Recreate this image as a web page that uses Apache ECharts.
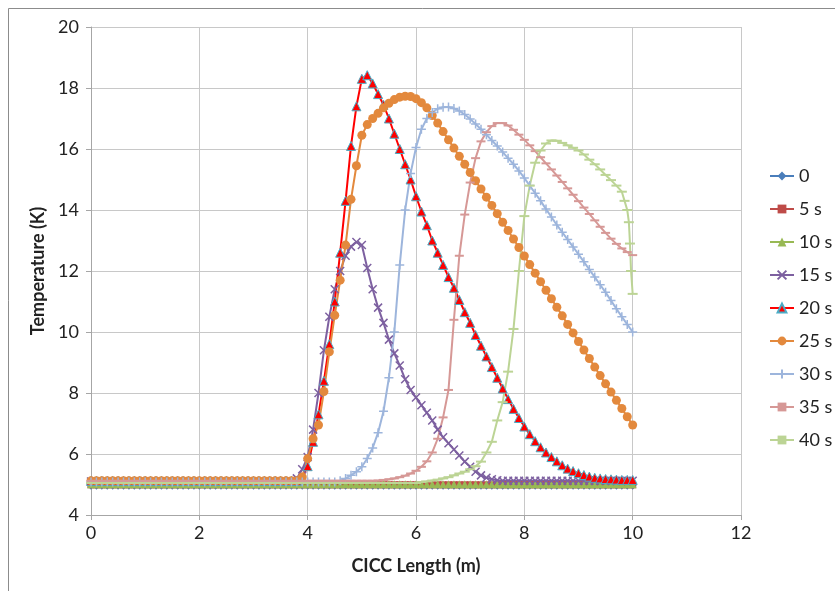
<!DOCTYPE html>
<html>
<head>
<meta charset="utf-8">
<script src="https://cdn.jsdelivr.net/npm/echarts@6/dist/echarts.min.js"></script>
<style>
html,body{margin:0;padding:0;background:#fff;}
#chart{width:835px;height:591px;}
</style>
</head>
<body>
<div id="chart"></div>
<script>
// ---- data ----
const seriesNames = ['0', '5 s', '10 s', '15 s', '20 s', '25 s', '30 s', '35 s', '40 s'];
const xTicks = [0, 2, 4, 6, 8, 10, 12];
const yTicks = [4, 6, 8, 10, 12, 14, 16, 18, 20];

const xs = [0,0.1,0.2,0.3,0.4,0.5,0.6,0.7,0.8,0.9,
 1,1.1,1.2,1.3,1.4,1.5,1.6,1.7,1.8,1.9,
 2,2.1,2.2,2.3,2.4,2.5,2.6,2.7,2.8,2.9,
 3,3.1,3.2,3.3,3.4,3.5,3.6,3.7,3.8,3.9,
 4,4.1,4.2,4.3,4.4,4.5,4.6,4.7,4.8,4.9,
 5,5.1,5.2,5.3,5.4,5.5,5.6,5.7,5.8,5.9,
 6,6.1,6.2,6.3,6.4,6.5,6.6,6.7,6.8,6.9,
 7,7.1,7.2,7.3,7.4,7.5,7.6,7.7,7.8,7.9,
 8,8.1,8.2,8.3,8.4,8.5,8.6,8.7,8.8,8.9,
 9,9.1,9.2,9.3,9.4,9.5,9.6,9.7,9.8,9.9,
 10];

const t0 = [4.96,4.96,4.96,4.96,4.96,4.96,4.96,4.96,4.96,4.96,
 4.96,4.96,4.96,4.96,4.96,4.96,4.96,4.96,4.96,4.96,
 4.96,4.96,4.96,4.96,4.96,4.96,4.96,4.96,4.96,4.96,
 4.96,4.96,4.96,4.96,4.96,4.96,4.96,4.96,4.96,4.96,
 4.96,4.96,4.96,4.96,4.96,4.96,4.96,4.96,4.96,4.96,
 4.96,4.96,4.96,4.96,4.96,4.96,4.96,4.96,4.96,4.96,
 4.96,4.96,4.96,4.96,4.96,4.96,4.96,4.96,4.96,4.96,
 4.96,4.96,4.96,4.96,4.96,4.96,4.96,4.96,4.96,4.96,
 4.96,4.96,4.96,4.96,4.96,4.96,4.96,4.96,4.96,4.96,
 4.96,4.96,4.96,4.96,4.96,4.96,4.96,4.96,4.96,4.96,
 4.96];

const t5 = [4.99,4.99,4.99,4.99,4.99,4.99,4.99,4.99,4.99,4.99,
 4.99,4.99,4.99,4.99,4.99,4.99,4.99,4.99,4.99,4.99,
 4.99,4.99,4.99,4.99,4.99,4.99,4.99,4.99,4.99,4.99,
 4.99,4.99,4.99,4.99,4.99,4.99,4.99,4.99,4.99,4.99,
 4.99,4.99,4.99,4.99,4.99,4.99,4.99,4.99,4.99,4.99,
 4.99,4.99,4.99,4.99,4.99,4.99,4.99,4.99,4.99,4.99,
 4.99,4.99,4.99,4.99,4.99,4.99,4.99,4.99,4.99,4.99,
 4.99,4.99,4.99,4.99,4.99,4.99,4.99,4.99,4.99,4.99,
 4.99,4.99,4.99,4.99,4.99,4.99,4.99,4.99,4.99,4.99,
 4.99,4.99,4.99,4.99,4.99,4.99,4.99,4.99,4.99,4.99,
 4.99];

const t10 = [5.01,5.01,5.01,5.01,5.01,5.01,5.01,5.01,5.01,5.01,
 5.01,5.01,5.01,5.01,5.01,5.01,5.01,5.01,5.01,5.01,
 5.01,5.01,5.01,5.01,5.01,5.01,5.01,5.01,5.01,5.01,
 5.01,5.01,5.01,5.01,5.01,5.01,5.01,5.01,5.01,5.01,
 5.01,5.01,5.01,5.01,5.01,5.01,5.01,5.01,5.01,5.01,
 5.01,5.01,5.01,5.01,5.01,5.01,5.01,5.01,5.01,5.01,
 5.01,5.01,5.01,5.01,5.01,5.01,5.01,5.01,5.01,5.01,
 5.01,5.01,5.01,5.01,5.01,5.01,5.01,5.01,5.01,5.01,
 5.01,5.01,5.01,5.01,5.01,5.01,5.01,5.01,5.01,5.01,
 5.01,5.01,5.01,5.01,5.01,5.01,5.01,5.01,5.01,5.01,
 5.01];

const t15 = [5.1,5.1,5.1,5.1,5.1,5.1,5.1,5.1,5.1,5.1,
 5.1,5.1,5.1,5.1,5.1,5.1,5.1,5.1,5.1,5.1,
 5.1,5.1,5.1,5.1,5.1,5.1,5.1,5.1,5.1,5.1,
 5.1,5.1,5.1,5.1,5.1,5.1,5.1,5.1,5.2,5.5,
 5.9,6.8,8.0,9.4,10.5,11.4,12.0,12.5,12.8,12.95,
 12.85,12.1,11.4,10.8,10.3,9.75,9.3,8.9,8.45,8.1,
 7.85,7.6,7.35,7.1,6.8,6.55,6.35,6.15,5.95,5.75,
 5.58,5.42,5.3,5.22,5.17,5.14,5.12,5.12,5.12,5.12,
 5.12,5.12,5.12,5.12,5.12,5.12,5.12,5.12,5.12,5.12,
 5.12,5.12,5.12,5.12,5.12,5.12,5.12,5.12,5.12,5.12,
 5.12];

const t20 = [5.12,5.12,5.12,5.12,5.12,5.12,5.12,5.12,5.12,5.12,
 5.12,5.12,5.12,5.12,5.12,5.12,5.12,5.12,5.12,5.12,
 5.12,5.12,5.12,5.12,5.12,5.12,5.12,5.12,5.12,5.12,
 5.12,5.12,5.12,5.12,5.12,5.12,5.12,5.12,5.12,5.2,
 5.6,6.4,7.3,8.4,9.6,11.0,12.6,14.3,16.1,17.4,
 18.3,18.42,18.15,17.8,17.45,17.0,16.5,16.0,15.5,15.0,
 14.45,13.95,13.5,13.0,12.6,12.2,11.8,11.45,11.05,10.65,
 10.3,9.9,9.55,9.2,8.85,8.5,8.15,7.8,7.48,7.18,
 6.9,6.65,6.42,6.22,6.05,5.9,5.76,5.63,5.52,5.44,
 5.37,5.31,5.26,5.22,5.2,5.18,5.17,5.16,5.15,5.15,
 5.15];

const t25 = [5.12,5.12,5.12,5.12,5.12,5.12,5.12,5.12,5.12,5.12,
 5.12,5.12,5.12,5.12,5.12,5.12,5.12,5.12,5.12,5.12,
 5.12,5.12,5.12,5.12,5.12,5.12,5.12,5.12,5.12,5.12,
 5.12,5.12,5.12,5.12,5.12,5.12,5.12,5.12,5.12,5.25,
 5.85,6.5,6.95,8.05,9.35,10.55,11.7,12.85,14.35,15.45,
 16.45,16.8,17.0,17.17,17.35,17.5,17.62,17.7,17.73,17.72,
 17.65,17.52,17.35,17.1,16.85,16.57,16.3,16.03,15.76,15.5,
 15.23,14.96,14.69,14.42,14.15,13.88,13.6,13.33,13.05,12.77,
 12.49,12.21,11.93,11.65,11.37,11.09,10.81,10.53,10.25,9.97,
 9.69,9.41,9.13,8.85,8.57,8.3,8.03,7.76,7.49,7.22,
 6.95];

const t30 = [5.08,5.08,5.08,5.08,5.08,5.08,5.08,5.08,5.08,5.08,
 5.08,5.08,5.08,5.08,5.08,5.08,5.08,5.08,5.08,5.08,
 5.08,5.08,5.08,5.08,5.08,5.08,5.08,5.08,5.08,5.08,
 5.08,5.08,5.08,5.08,5.08,5.08,5.08,5.08,5.08,5.08,
 5.08,5.08,5.08,5.08,5.08,5.08,5.12,5.2,5.3,5.42,
 5.58,5.85,6.2,6.7,7.4,8.5,10.0,12.2,14.0,15.2,
 16.05,16.65,17.0,17.2,17.32,17.37,17.38,17.33,17.25,17.13,
 16.98,16.82,16.65,16.47,16.28,16.1,15.9,15.7,15.5,15.28,
 15.05,14.8,14.55,14.3,14.03,13.77,13.51,13.27,13.03,12.79,
 12.55,12.3,12.05,11.8,11.55,11.3,11.03,10.76,10.5,10.25,
 10.0];

const t35 = [5.12,5.12,5.12,5.12,5.12,5.12,5.12,5.12,5.12,5.12,
 5.12,5.12,5.12,5.12,5.12,5.12,5.12,5.12,5.12,5.12,
 5.12,5.12,5.12,5.12,5.12,5.12,5.12,5.12,5.12,5.12,
 5.12,5.12,5.12,5.12,5.12,5.12,5.12,5.12,5.12,5.12,
 5.12,5.12,5.12,5.12,5.12,5.12,5.12,5.12,5.12,5.12,
 5.12,5.12,5.12,5.13,5.15,5.17,5.2,5.24,5.29,5.36,
 5.45,5.58,5.76,6.05,6.5,7.2,8.1,10.4,12.5,13.85,
 14.9,15.7,16.25,16.55,16.75,16.85,16.85,16.77,16.63,16.47,
 16.3,16.12,15.93,15.73,15.53,15.33,15.13,14.92,14.71,14.5,
 14.29,14.08,13.87,13.66,13.45,13.25,13.06,12.89,12.74,12.62,
 12.52];

const t40 = [5.05,5.05,5.05,5.05,5.05,5.05,5.05,5.05,5.05,5.05,
 5.05,5.05,5.05,5.05,5.05,5.05,5.05,5.05,5.05,5.05,
 5.05,5.05,5.05,5.05,5.05,5.05,5.05,5.05,5.05,5.05,
 5.05,5.05,5.05,5.05,5.05,5.05,5.05,5.05,5.05,5.05,
 5.05,5.05,5.05,5.05,5.05,5.05,5.05,5.05,5.05,5.05,
 5.05,5.05,5.05,5.05,5.05,5.05,5.05,5.05,5.05,5.05,
 5.05,5.08,5.1,5.13,5.16,5.2,5.24,5.3,5.36,5.42,
 5.5,5.6,5.75,6.05,6.4,7.1,7.7,8.7,10.1,12.0,
 13.8,14.8,15.55,15.95,16.18,16.28,16.27,16.2,16.12,16.04,
 15.95,15.82,15.65,15.5,15.33,15.15,14.98,14.8,14.6,14.0,
 11.25];
// extra points on the steep end of the 40 s curve
const tail40X = [9.85, 9.93, 9.95, 9.97];
const tail40Y = [14.3, 13.6, 12.9, 12.0];

const values = [t0, t5, t10, t15, t20, t25, t30, t35, t40];

// ---- styling ----
const colors = ['#4A7EBB', '#BE4B48', '#98B954', '#7D60A0', '#FF0000', '#E3893D', '#9DB5DC', '#D69896', '#BCD495'];
const X_PATH = 'path://M0,0L10,10M10,0L0,10';
const PLUS_PATH = 'path://M5,0L5,10M0,5L10,5';
const symbols = ['diamond', 'rect', 'triangle', X_PATH, 'triangle', 'circle', PLUS_PATH, 'rect', 'rect'];
const symbolSizes = [8, 7, 8, 8, 9, 9, 9, [9, 2], [10, 2]];
const borderColors = [null, null, null, '#7D60A0', '#4BACC6', null, '#9DB5DC', null, null];
const borderWidths = [0, 0, 0, 1.5, 1, 0, 1.5, 0, 0];

function pairs(xArr, yArr) {
  return xArr.map((x, i) => [x, yArr[i]]);
}

const series = seriesNames.map((name, i) => {
  let data = pairs(xs, values[i]);
  if (i === 8) {
    data = data.concat(pairs(tail40X, tail40Y)).sort((a, b) => a[0] - b[0]);
  }
  const itemStyle = { color: colors[i] };
  if (borderWidths[i] > 0) {
    itemStyle.borderColor = borderColors[i];
    itemStyle.borderWidth = borderWidths[i];
  } else {
    itemStyle.borderWidth = 0;
  }
  return {
    name: name,
    type: 'line',
    data: data,
    symbol: symbols[i],
    symbolSize: symbolSizes[i],
    showSymbol: true,
    showAllSymbol: true,
    lineStyle: { color: colors[i], width: 2 },
    itemStyle: itemStyle,
    emphasis: { disabled: true },
    z: 2
  };
});

const FONT = 'Lato, "Open Sans", sans-serif';

const chart = echarts.init(document.getElementById('chart'), null, { renderer: 'canvas' });
chart.setOption({
  animation: false,
  backgroundColor: '#ffffff',
  textStyle: { fontFamily: FONT },
  graphic: [{
    type: 'rect',
    shape: { x: 8.5, y: 8.5, width: 840, height: 600 },
    style: { fill: 'none', stroke: '#8C8C8C', lineWidth: 1 },
    silent: true,
    z: -10
  }],
  grid: { left: 91, top: 27, width: 650, height: 488, containLabel: false },
  legend: {
    orient: 'vertical',
    left: 764,
    top: 162,
    itemWidth: 24,
    itemHeight: 11,
    itemGap: 15,
    data: seriesNames,
    textStyle: { fontSize: 18, color: '#222', fontFamily: FONT }
  },
  xAxis: {
    type: 'value',
    min: xTicks[0],
    max: xTicks[xTicks.length - 1],
    interval: 2,
    name: 'CICC Length (m)',
    nameLocation: 'middle',
    nameGap: 42,
    nameTextStyle: { fontSize: 18, fontWeight: 'bold', color: '#222', fontFamily: FONT },
    axisLine: { show: true, lineStyle: { color: '#A6A6A6', width: 1 } },
    axisTick: { show: true, length: 5, lineStyle: { color: '#A6A6A6' } },
    axisLabel: { fontSize: 18, color: '#222', margin: 9, fontFamily: FONT },
    splitLine: { show: true, lineStyle: { color: '#C8C8C8', width: 1 } }
  },
  yAxis: {
    type: 'value',
    min: yTicks[0],
    max: yTicks[yTicks.length - 1],
    interval: 2,
    name: 'Temperature (K)',
    nameLocation: 'middle',
    nameRotate: 90,
    nameGap: 44,
    nameTextStyle: { fontSize: 18, fontWeight: 'bold', color: '#222', fontFamily: FONT },
    axisLine: { show: true, lineStyle: { color: '#A6A6A6', width: 1 } },
    axisTick: { show: true, length: 5, lineStyle: { color: '#A6A6A6' } },
    axisLabel: { fontSize: 18, color: '#222', margin: 12, fontFamily: FONT },
    splitLine: { show: true, lineStyle: { color: '#C8C8C8', width: 1 } }
  },
  series: series
});
</script>
</body>
</html>
